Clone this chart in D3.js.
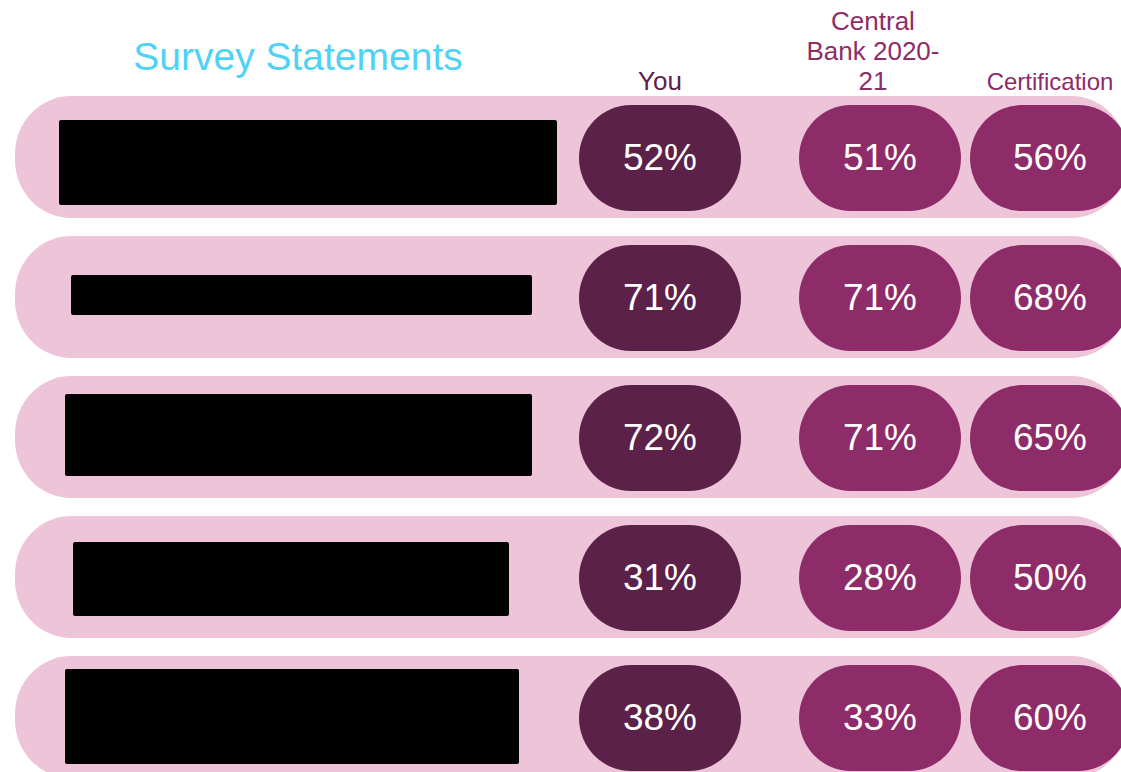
<!DOCTYPE html>
<html><head><meta charset="utf-8">
<script src="https://cdn.jsdelivr.net/npm/d3@7"></script>
<style>html,body{margin:0;padding:0;background:#fff;overflow:hidden}</style>
</head><body>
<svg id="chart" width="1121" height="772"></svg>
<script>
// ---- data ----
const statements = ["Statement 1","Statement 2","Statement 3","Statement 4","Statement 5"];
const columns = ["You","Central Bank 2020-21","Certification"];
const columnLabels = [["You"],["Central","Bank 2020-","21"],["Certification"]];
const youValues = [52, 71, 72, 31, 38];
const centralBankValues = [51, 71, 71, 28, 33];
const certificationValues = [56, 68, 65, 50, 60];
// redacted statement text boxes (left, right, top, bottom within the page)
const redactLeft = [59, 71, 65, 73, 65];
const redactRight = [557, 532, 532, 509, 519];
const redactTop = [120, 275, 394, 542, 669];
const redactBottom = [205, 315, 476, 616, 764];

const series = [youValues, centralBankValues, certificationValues];
const svg = d3.select("#chart");
const font = "'Liberation Sans', Arial, Helvetica, sans-serif";

const y = d3.scaleBand().domain(statements).range([96, 778]).paddingInner(18/140).paddingOuter(0);
const colCenter = d3.scaleOrdinal().domain(columns).range([660, 880, 1050]);
const headCenter = d3.scaleOrdinal().domain(columns).range([660, 873, 1050]);
const colWidth = d3.scaleOrdinal().domain(columns).range([162, 162, 160]);
const colFill = d3.scaleOrdinal().domain(columns).range(["#5c2149", "#8e2c69", "#8e2c69"]);
const headColor = d3.scaleOrdinal().domain(columns).range(["#5c2149", "#8e2c69", "#8e2c69"]);

// header
svg.append("text").attr("x", 298).attr("y", 70).attr("text-anchor", "middle")
  .attr("font-family", font).attr("font-size", 39).attr("fill", "#4fd2f7").text("Survey Statements");

columns.forEach((c, i) => {
  const lines = columnLabels[i];
  const t = svg.append("text").attr("text-anchor", "middle").attr("font-family", font)
    .attr("font-size", i === 2 ? 24 : 26).attr("fill", headColor(c));
  lines.forEach((l, j) => {
    t.append("tspan").attr("x", headCenter(c)).attr("y", 90 - (lines.length - 1 - j) * 30).text(l);
  });
});

// row bands
const rows = svg.selectAll("g.row").data(statements).join("g").attr("class", "row");
rows.append("rect").attr("x", 15).attr("y", d => y(d)).attr("width", 1112).attr("height", y.bandwidth())
  .attr("rx", 56).attr("ry", 58).attr("fill", "#edc4d8");

// redaction boxes
rows.append("rect")
  .attr("x", (d, i) => redactLeft[i]).attr("y", (d, i) => redactTop[i])
  .attr("width", (d, i) => redactRight[i] - redactLeft[i]).attr("height", (d, i) => redactBottom[i] - redactTop[i])
  .attr("rx", 2).attr("fill", "#000");

// pills
const pillH = 106;
columns.forEach((c, ci) => {
  const g = svg.selectAll("g.pill-" + ci).data(series[ci]).join("g").attr("class", "pill-" + ci);
  g.append("rect")
    .attr("x", colCenter(c) - colWidth(c) / 2)
    .attr("y", (d, i) => y(statements[i]) + y.bandwidth() / 2 - pillH / 2 + 1)
    .attr("width", colWidth(c)).attr("height", pillH)
    .attr("rx", 52).attr("ry", 53).attr("fill", colFill(c));
  g.append("text")
    .attr("x", colCenter(c))
    .attr("y", (d, i) => y(statements[i]) + y.bandwidth() / 2 + 13)
    .attr("text-anchor", "middle").attr("font-family", font).attr("font-size", 37)
    .attr("fill", "#fff").text(d => d + "%");
});
</script>
</body></html>
